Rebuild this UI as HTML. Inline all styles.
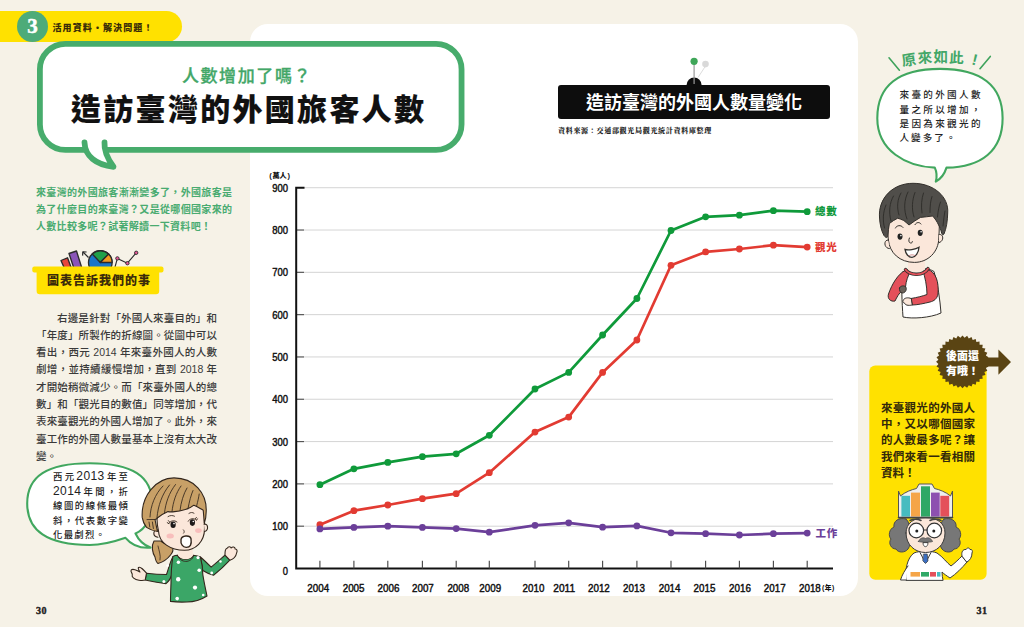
<!DOCTYPE html>
<html lang="zh-Hant">
<head>
<meta charset="utf-8">
<title>造訪臺灣的外國旅客人數</title>
<style>
html,body{margin:0;padding:0;}
body{width:1024px;height:627px;overflow:hidden;background:#f6f2e7;position:relative;
  font-family:"Liberation Sans","Noto Sans CJK TC",sans-serif;color:#222;}
.abs{position:absolute;white-space:nowrap;}
#gfx{position:absolute;left:0;top:0;width:1024px;height:627px;}
#panel{position:absolute;left:250px;top:23.5px;width:607.8px;height:572.3px;background:#fff;border-radius:18px;}
#banner{position:absolute;left:0;top:11px;width:182px;height:31px;background:#ffe100;border-radius:0 16px 16px 0;}
#num{position:absolute;left:16.8px;top:11.3px;width:31.2px;height:31.2px;border-radius:50%;background:#4dab79;color:#fff;
  font-family:"Liberation Serif",serif;font-weight:bold;font-size:21px;line-height:31.5px;text-align:center;-webkit-text-stroke:0.5px #fff;}
#bannertxt{left:52.5px;top:20.9px;font-size:9px;line-height:14px;font-weight:900;letter-spacing:1.1px;color:#3a2d08;}
#sub{left:181px;top:64px;width:132px;font-size:17px;line-height:26px;color:#43a768;letter-spacing:1.6px;text-align:center;font-weight:500;-webkit-text-stroke:0.3px #43a768;}
#title{left:71px;top:88px;font-size:30px;line-height:44px;font-weight:900;letter-spacing:2.3px;color:#111;-webkit-text-stroke:0.15px #111;}
.intro{left:36px;width:196px;font-size:10px;line-height:16px;font-weight:700;color:#49ab70;text-align:justify;text-align-last:justify;}
#lab{left:47px;top:271px;width:103px;font-size:12px;line-height:20px;font-weight:900;color:#3b2b0a;text-align:justify;text-align-last:justify;}
.bd{left:36px;width:181px;font-size:10.5px;line-height:16px;font-weight:500;color:#3a3a3a;text-align:justify;text-align-last:justify;}
.hw{font-size:9.4px;line-height:14px;font-weight:500;color:#222;text-align:justify;text-align-last:justify;}
.dg{font-size:12px;line-height:0;letter-spacing:0.4px;font-weight:400;}
.pg{font-family:"Liberation Serif",serif;font-weight:bold;font-size:10px;line-height:12px;color:#222;letter-spacing:0.5px;-webkit-text-stroke:0.4px #222;}
#ctitle{left:558px;top:85px;width:272px;height:34px;line-height:34px;background:#0d0d0d;border-radius:3px;color:#fff;
  font-size:18px;font-weight:700;text-align:center;letter-spacing:0px;padding-top:1px;box-sizing:border-box;}
#src{left:558px;top:126px;font-family:"Liberation Serif","Noto Serif CJK TC",serif;font-weight:900;font-size:7px;line-height:10px;color:#222;letter-spacing:0.7px;}
.ybox{left:881px;width:94px;font-size:11.5px;line-height:18px;font-weight:700;color:#33290a;text-align:justify;text-align-last:justify;}
.bdg{font-size:11px;line-height:14px;font-weight:900;color:#fff;}
</style>
</head>
<body>
<div id="panel"></div>
<div id="banner"></div>
<div id="num">3</div>
<div class="abs" id="bannertxt">活用資料・解決問題！</div>

<svg id="gfx" width="1024" height="627" viewBox="0 0 1024 627">
<!--CHART-->
<g id="chart" font-family="'Liberation Sans','Noto Sans CJK TC',sans-serif">
<line x1="304" y1="526.19" x2="833" y2="526.19" stroke="#cfcfcf" stroke-width="0.9"/>
<line x1="297" y1="526.19" x2="304" y2="526.19" stroke="#555" stroke-width="1.2"/>
<line x1="304" y1="483.88" x2="833" y2="483.88" stroke="#cfcfcf" stroke-width="0.9"/>
<line x1="297" y1="483.88" x2="304" y2="483.88" stroke="#555" stroke-width="1.2"/>
<line x1="304" y1="441.57" x2="833" y2="441.57" stroke="#cfcfcf" stroke-width="0.9"/>
<line x1="297" y1="441.57" x2="304" y2="441.57" stroke="#555" stroke-width="1.2"/>
<line x1="304" y1="399.26" x2="833" y2="399.26" stroke="#cfcfcf" stroke-width="0.9"/>
<line x1="297" y1="399.26" x2="304" y2="399.26" stroke="#555" stroke-width="1.2"/>
<line x1="304" y1="356.95" x2="833" y2="356.95" stroke="#cfcfcf" stroke-width="0.9"/>
<line x1="297" y1="356.95" x2="304" y2="356.95" stroke="#555" stroke-width="1.2"/>
<line x1="304" y1="314.64" x2="833" y2="314.64" stroke="#cfcfcf" stroke-width="0.9"/>
<line x1="297" y1="314.64" x2="304" y2="314.64" stroke="#555" stroke-width="1.2"/>
<line x1="304" y1="272.33" x2="833" y2="272.33" stroke="#cfcfcf" stroke-width="0.9"/>
<line x1="297" y1="272.33" x2="304" y2="272.33" stroke="#555" stroke-width="1.2"/>
<line x1="304" y1="230.02" x2="833" y2="230.02" stroke="#cfcfcf" stroke-width="0.9"/>
<line x1="297" y1="230.02" x2="304" y2="230.02" stroke="#555" stroke-width="1.2"/>
<line x1="304" y1="187.71" x2="833" y2="187.71" stroke="#cfcfcf" stroke-width="0.9"/>
<path d="M304.5,187.71 H296.2 V568.5 H833" fill="none" stroke="#111" stroke-width="2"/>
<line x1="319.9" y1="560.8" x2="319.9" y2="568.5" stroke="#4a4a4a" stroke-width="1.15"/>
<line x1="353.9" y1="560.8" x2="353.9" y2="568.5" stroke="#4a4a4a" stroke-width="1.15"/>
<line x1="387.8" y1="560.8" x2="387.8" y2="568.5" stroke="#4a4a4a" stroke-width="1.15"/>
<line x1="422.4" y1="560.8" x2="422.4" y2="568.5" stroke="#4a4a4a" stroke-width="1.15"/>
<line x1="456.2" y1="560.8" x2="456.2" y2="568.5" stroke="#4a4a4a" stroke-width="1.15"/>
<line x1="489.3" y1="560.8" x2="489.3" y2="568.5" stroke="#4a4a4a" stroke-width="1.15"/>
<line x1="535" y1="560.8" x2="535" y2="568.5" stroke="#4a4a4a" stroke-width="1.15"/>
<line x1="568.7" y1="560.8" x2="568.7" y2="568.5" stroke="#4a4a4a" stroke-width="1.15"/>
<line x1="602.6" y1="560.8" x2="602.6" y2="568.5" stroke="#4a4a4a" stroke-width="1.15"/>
<line x1="636.9" y1="560.8" x2="636.9" y2="568.5" stroke="#4a4a4a" stroke-width="1.15"/>
<line x1="671" y1="560.8" x2="671" y2="568.5" stroke="#4a4a4a" stroke-width="1.15"/>
<line x1="705.6" y1="560.8" x2="705.6" y2="568.5" stroke="#4a4a4a" stroke-width="1.15"/>
<line x1="739.4" y1="560.8" x2="739.4" y2="568.5" stroke="#4a4a4a" stroke-width="1.15"/>
<line x1="773.4" y1="560.8" x2="773.4" y2="568.5" stroke="#4a4a4a" stroke-width="1.15"/>
<line x1="807.2" y1="560.8" x2="807.2" y2="568.5" stroke="#4a4a4a" stroke-width="1.15"/>
<text x="282.8" y="574.7" font-size="11" textLength="5.2" lengthAdjust="spacingAndGlyphs" fill="#111" stroke="#111" stroke-width="0.45">0</text>
<text x="272.2" y="530.2" font-size="11" textLength="15.8" lengthAdjust="spacingAndGlyphs" fill="#111" stroke="#111" stroke-width="0.45">100</text>
<text x="272.2" y="487.9" font-size="11" textLength="15.8" lengthAdjust="spacingAndGlyphs" fill="#111" stroke="#111" stroke-width="0.45">200</text>
<text x="272.2" y="445.6" font-size="11" textLength="15.8" lengthAdjust="spacingAndGlyphs" fill="#111" stroke="#111" stroke-width="0.45">300</text>
<text x="272.2" y="403.3" font-size="11" textLength="15.8" lengthAdjust="spacingAndGlyphs" fill="#111" stroke="#111" stroke-width="0.45">400</text>
<text x="272.2" y="360.9" font-size="11" textLength="15.8" lengthAdjust="spacingAndGlyphs" fill="#111" stroke="#111" stroke-width="0.45">500</text>
<text x="272.2" y="318.6" font-size="11" textLength="15.8" lengthAdjust="spacingAndGlyphs" fill="#111" stroke="#111" stroke-width="0.45">600</text>
<text x="272.2" y="276.3" font-size="11" textLength="15.8" lengthAdjust="spacingAndGlyphs" fill="#111" stroke="#111" stroke-width="0.45">700</text>
<text x="272.2" y="234.0" font-size="11" textLength="15.8" lengthAdjust="spacingAndGlyphs" fill="#111" stroke="#111" stroke-width="0.45">800</text>
<text x="272.2" y="191.7" font-size="11" textLength="15.8" lengthAdjust="spacingAndGlyphs" fill="#111" stroke="#111" stroke-width="0.45">900</text>
<text x="307.3" y="592.3" font-size="11" textLength="21.8" lengthAdjust="spacingAndGlyphs" fill="#111" stroke="#111" stroke-width="0.45">2004</text>
<text x="342.7" y="592.3" font-size="11" textLength="21.8" lengthAdjust="spacingAndGlyphs" fill="#111" stroke="#111" stroke-width="0.45">2005</text>
<text x="377.6" y="592.3" font-size="11" textLength="21.8" lengthAdjust="spacingAndGlyphs" fill="#111" stroke="#111" stroke-width="0.45">2006</text>
<text x="412.0" y="592.3" font-size="11" textLength="21.8" lengthAdjust="spacingAndGlyphs" fill="#111" stroke="#111" stroke-width="0.45">2007</text>
<text x="447.4" y="592.3" font-size="11" textLength="21.8" lengthAdjust="spacingAndGlyphs" fill="#111" stroke="#111" stroke-width="0.45">2008</text>
<text x="479.3" y="592.3" font-size="11" textLength="21.8" lengthAdjust="spacingAndGlyphs" fill="#111" stroke="#111" stroke-width="0.45">2009</text>
<text x="522.6" y="592.3" font-size="11" textLength="21.8" lengthAdjust="spacingAndGlyphs" fill="#111" stroke="#111" stroke-width="0.45">2010</text>
<text x="553.3" y="592.3" font-size="11" textLength="21.8" lengthAdjust="spacingAndGlyphs" fill="#111" stroke="#111" stroke-width="0.45">2011</text>
<text x="588.0" y="592.3" font-size="11" textLength="21.8" lengthAdjust="spacingAndGlyphs" fill="#111" stroke="#111" stroke-width="0.45">2012</text>
<text x="623.1" y="592.3" font-size="11" textLength="21.8" lengthAdjust="spacingAndGlyphs" fill="#111" stroke="#111" stroke-width="0.45">2013</text>
<text x="658.7" y="592.3" font-size="11" textLength="21.8" lengthAdjust="spacingAndGlyphs" fill="#111" stroke="#111" stroke-width="0.45">2014</text>
<text x="693.6" y="592.3" font-size="11" textLength="21.8" lengthAdjust="spacingAndGlyphs" fill="#111" stroke="#111" stroke-width="0.45">2015</text>
<text x="729.1" y="592.3" font-size="11" textLength="21.8" lengthAdjust="spacingAndGlyphs" fill="#111" stroke="#111" stroke-width="0.45">2016</text>
<text x="763.8" y="592.3" font-size="11" textLength="21.8" lengthAdjust="spacingAndGlyphs" fill="#111" stroke="#111" stroke-width="0.45">2017</text>
<text x="799.0" y="592.3" font-size="11" textLength="21.8" lengthAdjust="spacingAndGlyphs" fill="#111" stroke="#111" stroke-width="0.45">2018</text>
<text x="269.3" y="177.8" font-size="7.2" font-weight="900" fill="#111"><tspan font-weight="700" font-size="7.6">(</tspan><tspan dx="0.6">萬人</tspan><tspan dx="0.8" font-weight="700" font-size="7.6">)</tspan></text>
<text x="822" y="590.4" font-size="6.8" font-weight="900" fill="#111"><tspan font-weight="700" font-size="7">(</tspan><tspan dx="0.4">年</tspan><tspan dx="0.5" font-weight="700" font-size="7">)</tspan></text>
<polyline points="319.9,484.7 353.9,468.8 387.8,462.4 422.4,456.7 456.2,453.8 489.3,435.3 535,389 568.7,372.4 602.6,335 636.9,298.5 671,230.5 705.6,216.8 739.4,215.2 773.4,210.7 807.2,211.7" fill="none" stroke="#0f9a3a" stroke-width="2.7" stroke-linejoin="round" stroke-linecap="round"/>
<circle cx="319.9" cy="484.7" r="3.4" fill="#0f9a3a"/>
<circle cx="353.9" cy="468.8" r="3.4" fill="#0f9a3a"/>
<circle cx="387.8" cy="462.4" r="3.4" fill="#0f9a3a"/>
<circle cx="422.4" cy="456.7" r="3.4" fill="#0f9a3a"/>
<circle cx="456.2" cy="453.8" r="3.4" fill="#0f9a3a"/>
<circle cx="489.3" cy="435.3" r="3.4" fill="#0f9a3a"/>
<circle cx="535" cy="389" r="3.4" fill="#0f9a3a"/>
<circle cx="568.7" cy="372.4" r="3.4" fill="#0f9a3a"/>
<circle cx="602.6" cy="335" r="3.4" fill="#0f9a3a"/>
<circle cx="636.9" cy="298.5" r="3.4" fill="#0f9a3a"/>
<circle cx="671" cy="230.5" r="3.4" fill="#0f9a3a"/>
<circle cx="705.6" cy="216.8" r="3.4" fill="#0f9a3a"/>
<circle cx="739.4" cy="215.2" r="3.4" fill="#0f9a3a"/>
<circle cx="773.4" cy="210.7" r="3.4" fill="#0f9a3a"/>
<circle cx="807.2" cy="211.7" r="3.4" fill="#0f9a3a"/>
<polyline points="319.9,524.7 353.9,510.7 387.8,505 422.4,498.7 456.2,493.7 489.3,472.7 535,432.1 568.7,417.1 602.6,372.4 636.9,340 671,265.3 705.6,251.9 739.4,249 773.4,245.2 807.2,247.1" fill="none" stroke="#e23b32" stroke-width="2.7" stroke-linejoin="round" stroke-linecap="round"/>
<circle cx="319.9" cy="524.7" r="3.4" fill="#e23b32"/>
<circle cx="353.9" cy="510.7" r="3.4" fill="#e23b32"/>
<circle cx="387.8" cy="505" r="3.4" fill="#e23b32"/>
<circle cx="422.4" cy="498.7" r="3.4" fill="#e23b32"/>
<circle cx="456.2" cy="493.7" r="3.4" fill="#e23b32"/>
<circle cx="489.3" cy="472.7" r="3.4" fill="#e23b32"/>
<circle cx="535" cy="432.1" r="3.4" fill="#e23b32"/>
<circle cx="568.7" cy="417.1" r="3.4" fill="#e23b32"/>
<circle cx="602.6" cy="372.4" r="3.4" fill="#e23b32"/>
<circle cx="636.9" cy="340" r="3.4" fill="#e23b32"/>
<circle cx="671" cy="265.3" r="3.4" fill="#e23b32"/>
<circle cx="705.6" cy="251.9" r="3.4" fill="#e23b32"/>
<circle cx="739.4" cy="249" r="3.4" fill="#e23b32"/>
<circle cx="773.4" cy="245.2" r="3.4" fill="#e23b32"/>
<circle cx="807.2" cy="247.1" r="3.4" fill="#e23b32"/>
<polyline points="319.9,528.9 353.9,527.4 387.8,526.2 422.4,527.4 456.2,528.6 489.3,532.2 535,525.3 568.7,522.8 602.6,527.2 636.9,525.9 671,532.8 705.6,533.7 739.4,535 773.4,533.7 807.2,533.1" fill="none" stroke="#6b3f99" stroke-width="2.7" stroke-linejoin="round" stroke-linecap="round"/>
<circle cx="319.9" cy="528.9" r="3.4" fill="#6b3f99"/>
<circle cx="353.9" cy="527.4" r="3.4" fill="#6b3f99"/>
<circle cx="387.8" cy="526.2" r="3.4" fill="#6b3f99"/>
<circle cx="422.4" cy="527.4" r="3.4" fill="#6b3f99"/>
<circle cx="456.2" cy="528.6" r="3.4" fill="#6b3f99"/>
<circle cx="489.3" cy="532.2" r="3.4" fill="#6b3f99"/>
<circle cx="535" cy="525.3" r="3.4" fill="#6b3f99"/>
<circle cx="568.7" cy="522.8" r="3.4" fill="#6b3f99"/>
<circle cx="602.6" cy="527.2" r="3.4" fill="#6b3f99"/>
<circle cx="636.9" cy="525.9" r="3.4" fill="#6b3f99"/>
<circle cx="671" cy="532.8" r="3.4" fill="#6b3f99"/>
<circle cx="705.6" cy="533.7" r="3.4" fill="#6b3f99"/>
<circle cx="739.4" cy="535" r="3.4" fill="#6b3f99"/>
<circle cx="773.4" cy="533.7" r="3.4" fill="#6b3f99"/>
<circle cx="807.2" cy="533.1" r="3.4" fill="#6b3f99"/>
<text x="815" y="215" font-size="10.5" font-weight="900" fill="#11993d" letter-spacing="0.8">總數</text>
<text x="815" y="251" font-size="10.5" font-weight="900" fill="#e23b32" letter-spacing="0.8">觀光</text>
<text x="815.5" y="537" font-size="10.5" font-weight="900" fill="#6b3f99" letter-spacing="0.8">工作</text>
<line x1="705.5" y1="66" x2="698" y2="77.5" stroke="#dcdcdc" stroke-width="1"/><circle cx="705.5" cy="64.1" r="3.3" fill="#d9d9d9"/>
<path d="M686.6,85 A7.5,7.5 0 0 1 701.6,85 Z" fill="#0d0d0d"/>
<line x1="694.1" y1="62" x2="694.1" y2="84" stroke="#9a9a9a" stroke-width="1.2"/><circle cx="694.1" cy="61.3" r="3.6" fill="#3fa659"/>
</g>
<!--/CHART-->
<g id="bubble">
<rect x="39.9" y="43.85" width="421.65" height="106.05" rx="25.5" ry="25.5" fill="#fff" stroke="#47ac6c" stroke-width="5.8"/>
<path d="M84.5,142.5 C85,156 96,165 113.5,166.8 C107,158 104,150 104.5,142.5 Z" fill="#fff" stroke="none"/>
<rect x="87" y="140" width="16" height="13" fill="#fff"/>
<path d="M84.5,142.5 C85,156 96,165 113.5,166.8 C107,158 104,150 104.5,142.5" fill="none" stroke="#47ac6c" stroke-width="5.8" stroke-linecap="round" stroke-linejoin="round"/>
</g>
<g id="label">
<g stroke="#2b2b2b" stroke-width="1.35" stroke-linejoin="round">
<path d="M61,260.5 L67.5,257.8 L71.5,268.5 L64.5,268.5 Z" fill="#e8453c"/>
<path d="M69,253.5 L76.5,251 L82,268.5 L74,268.5 Z" fill="#8a55b8"/>
<path d="M88.5,257.5 L83,252" fill="none" stroke-width="1.2"/>
<path d="M82.6,255.6 L82.8,251.8 L86.6,252" fill="none" stroke-width="1.2"/>
<circle cx="100.3" cy="262.5" r="11.8" fill="#1a76c8"/>
<path d="M100.3,262.5 L92.3,254 A11.8,11.8 0 0 1 108.6,254.1 Z" fill="#1fa04a"/>
<path d="M100.3,262.5 L108.6,254.1 A11.8,11.8 0 0 1 112.1,262.5 Z" fill="#f39a1e"/>
<polyline points="115,267 117.4,258.4 127.4,263.2 136.2,252.8" fill="none" stroke-width="1.1"/>
<circle cx="117.4" cy="258.4" r="1.7" fill="#e85a9a" stroke-width="0.9"/>
<circle cx="127.4" cy="263.2" r="1.7" fill="#e85a9a" stroke-width="0.9"/>
<circle cx="136.2" cy="252.8" r="1.7" fill="#e85a9a" stroke-width="0.9"/>
</g>
<rect x="32.3" y="266.4" width="131.2" height="6" rx="2" fill="#ffe100"/>
<path d="M36.6,270 H159.2 V291 Q159.2,294.2 156,294.2 H39.8 Q36.6,294.2 36.6,291 Z" fill="#ffe100"/>
</g>
<g id="girlbubble">
<path d="M27.2,503.4 C27.2,476.1 47.2,463.2 89.7,463.2 C132.2,463.2 152.2,476.1 152.2,503.4 C152.2,517.4 146,529 135.5,533.5 C138.5,540 143.5,545 150.5,547.6 C140,548.4 131,544.5 125.5,537.8 C115,541.5 102,545 89.7,545 C47.2,545 27.2,530.7 27.2,503.4 Z" fill="#fff" stroke="#41a75f" stroke-width="2.1" stroke-linejoin="round"/>
</g>
<g id="girl" stroke="#33261c" stroke-width="1.1" stroke-linejoin="round" stroke-linecap="round">
<!-- ponytail -->
<path d="M154,541 C151,546 152.5,553 155,557 C155.5,560 156.5,562.5 158,563.5 C163,562 167.5,559 170.5,555 C173,552 173.5,549 172,547 C168,545 163,543 161,541 Z" fill="#c8a067"/>
<path d="M158,546 C159,551 161,555 160,560" fill="none" stroke-width="0.8"/>
<!-- left arm -->
<path d="M173,556.5 C170,562 168.5,569 166.5,574.5 C160,574.5 153,574 146.5,573.2 L145.2,580 C152,581.5 160,583 166,583.6 C169,581 171,578 172,574 Z" fill="#3ba667"/>
<!-- right arm -->
<path d="M200.4,557 C204,560 208,564 211.2,567.2 C216,563 221,559 225,555.2 L229.8,560.2 C225,565.5 219,571 213.5,575.2 C210,574.5 206,572.5 202.8,570.5 Z" fill="#3ba667"/>
<!-- hands -->
<path d="M146.5,573.2 C144,570 140,566.5 138.5,567.5 C137.5,568.5 139.5,571 140,572 C137,570 132.5,568.5 131.2,570 C130,572 133,573.5 132.2,575 C131.5,577 134.5,579.5 139,580.2 C141.5,580.6 144,580.4 145.2,580 Z" fill="#fbe7da"/>
<path d="M225,555.2 C224.8,551.5 225.5,548 227.5,548 C228,546.5 230.5,546 231.2,548 C232.5,546.3 235,546.8 235.2,549 C237,548.8 237.6,551 236.6,553 C236,556.5 233,559.2 229.8,560.2 Z" fill="#fbe7da"/>
<!-- body -->
<path d="M172.9,556.5 C174.5,555.5 176,555.2 177.6,555.2 C180,560.5 191,560.5 193.2,555.2 C196,555.5 198.5,556 200.4,557 C202,563 202.8,568 202.8,574.5 C204,582 205.5,589 207,596 C200,600.5 193,602 187,602 C181,602.3 175,602 170.5,601.4 C170.5,595 170.8,589 171,583 C171,574 171.5,565 172.9,556.5 Z" fill="#3ba667"/>
<path d="M177.6,555.2 C180,563.5 191.5,563.5 193.8,555.6" fill="none" stroke-width="0.9"/>
<!-- neck -->
<path d="M178.5,549 L178,555.4 C181,560.3 190.5,560.3 193,555.4 L192.5,548 Z" fill="#fbe7da" stroke="none"/>
<!-- face -->
<path d="M158.5,531 C156,520 156,508 165,502 C175,498 195,498 203,504 C205,510 204.5,518 204.5,529 C204.5,541.5 195.5,550.2 184.5,550.2 C170.5,550.2 159,543 158.5,531 Z" fill="#fbe7da"/>
<path d="M204,524.2 C208,523.2 209.2,529.8 204.6,531.6" fill="#fbe7da"/>
<path d="M157.8,530 C153,529 152,536.5 158,537.2" fill="#fbe7da"/>
<!-- hair -->
<path d="M142.2,517.4 C141,496 156,478 174,477.9 C194,478 207,493 206.2,511.6 C206.2,516 205.6,520 204.2,523.2 C204,519 203.6,514 203.2,510.2 C200,508.4 197,506.4 193.9,505.2 C191.5,507.2 188.5,508.8 185.3,509.5 C181.7,510.6 178,511.4 174.5,511.6 C172.2,511.9 170,511.9 168,511.6 C164,513.4 160,515.8 157.3,518 C157,518.6 156.2,519.4 155,519.5 C155.8,523.5 156.6,527.5 157.5,531.5 C153,530.8 149.5,529.4 146.5,527.4 C144.2,524.4 142.7,521 142.2,517.4 Z" fill="#c8a067"/>
<g fill="none" stroke-width="0.85">
<path d="M147,519.6 L155,519.5"/>
<path d="M150,517 C150.5,506 155,494 163,486"/>
<path d="M157,517.5 C158,506 162,494 169.5,485"/>
<path d="M164.5,513.2 C165.5,503 169,493 175.5,484.5"/>
<path d="M172,511.6 C173,502 176,493 181,486"/>
<path d="M180,510.6 C181,502 183.5,494 187,488"/>
<path d="M188,508.4 C189.5,501 191,495 193,490.5"/>
<path d="M196.5,506.5 C198,500.5 198.8,497 199.2,494"/>
<path d="M149,522 L149.8,527 M152.4,522 L153.4,528.5"/>
</g>
</g>
<g id="girlface">
<ellipse cx="173.1" cy="524.7" rx="2.6" ry="3.3" fill="#1d1a1a"/>
<ellipse cx="192.4" cy="522.6" rx="2.6" ry="3.3" fill="#1d1a1a"/>
<circle cx="174" cy="523.6" r="0.8" fill="#fff"/><circle cx="193.3" cy="521.5" r="0.8" fill="#fff"/>
<path d="M168.8,523.6 C170,520.6 174.5,519.8 177,522 M168.8,523.6 L167.2,522.6 M169.6,522 L168.4,520.6 M188.2,521.2 C189.5,518.4 194,517.8 196.4,520 M196.4,520 L197.8,518.8 M195.4,518.8 L196.4,517.4" fill="none" stroke="#33261c" stroke-width="0.9" stroke-linecap="round"/>
<path d="M168,516.6 C170,515.2 172.6,515.2 174.5,516.2 M188.9,513.4 C190.6,512.2 192.6,512.2 194,513.2" fill="none" stroke="#33261c" stroke-width="0.85" stroke-linecap="round"/>
<ellipse cx="170.2" cy="536" rx="3.7" ry="2.5" fill="#f7b4b4" opacity="0.8"/>
<ellipse cx="198.4" cy="530.6" rx="3.3" ry="2.4" fill="#f7b4b4" opacity="0.8"/>
<path d="M183.4,529.8 C184.4,530.8 184.6,532.2 183.6,533.2" fill="none" stroke="#33261c" stroke-width="0.85" stroke-linecap="round"/>
<path d="M181,539.6 C181.6,535.4 189.8,534.6 191,538.6 C192,545 190,547.2 186.4,547.4 C182.8,547.6 180.4,544 181,539.6 Z" fill="#fff" stroke="#33261c" stroke-width="1.4"/>
<g fill="#fff">
<circle cx="198" cy="557.6" r="1.6"/><circle cx="178.4" cy="562.3" r="1.7"/><circle cx="167.6" cy="565.6" r="1.4"/><circle cx="199.2" cy="570.3" r="1.8"/><circle cx="178.2" cy="579.3" r="2.2"/><circle cx="195" cy="587.6" r="2.1"/><circle cx="177.2" cy="598.6" r="1.8"/><circle cx="211.7" cy="573" r="1.4"/><circle cx="163.9" cy="581.4" r="1.5"/><circle cx="203.2" cy="595" r="1.3"/><circle cx="220.5" cy="561.5" r="1.2"/>
</g>
</g>
<g id="rbubble">
<path d="M877.3,118.2 C877.3,85.7 898.6,68.9 940.0,68.9 C981.3,68.9 1002.6,85.7 1002.6,118.2 C1002.6,150.8 981.3,167.1 946.5,167.6 C944.5,174 940.5,179 935.8,181.6 C937.2,176.5 936.6,171.5 934.8,167.6 C906.6,166.6 877.3,150.8 877.3,118.2 Z" fill="#fff" stroke="#41a75f" stroke-width="2.1" stroke-linejoin="round"/>
<path d="M889,57.8 L899.4,70.2 M990.3,56.4 L980,68.7" stroke="#3fa35c" stroke-width="1.6" stroke-linecap="round"/>
<g font-family="'Liberation Sans','Noto Sans CJK TC',sans-serif" font-size="14.5" font-weight="700" fill="#43a768">
<text transform="translate(902.5,66.2) rotate(-9)">原</text>
<text transform="translate(918,63.3) rotate(-4)">來</text>
<text transform="translate(933.5,62.3) rotate(0)">如</text>
<text transform="translate(949,62.6) rotate(3)">此</text>
<text transform="translate(971,64.2) rotate(14)" font-size="15.5">!</text>
</g>
</g>
<g id="ybox">
<rect x="869.3" y="365.5" width="117.3" height="214.3" rx="6" fill="#ffe100"/>
<polygon points="988.9,361.8 986.6,363.9 988.5,366.4 985.9,368.1 987.3,370.8 984.4,372.0 985.4,375.0 982.3,375.7 982.7,378.8 979.6,378.9 979.5,382.0 976.4,381.6 975.7,384.7 972.7,383.7 971.5,386.6 968.8,385.2 967.1,387.8 964.6,385.9 962.5,388.2 960.4,385.9 957.9,387.8 956.2,385.2 953.5,386.6 952.3,383.7 949.3,384.7 948.6,381.6 945.5,382.0 945.4,378.9 942.3,378.8 942.7,375.7 939.6,375.0 940.6,372.0 937.7,370.8 939.1,368.1 936.5,366.4 938.4,363.9 936.1,361.8 938.4,359.7 936.5,357.2 939.1,355.5 937.7,352.8 940.6,351.6 939.6,348.6 942.7,347.9 942.3,344.8 945.4,344.7 945.5,341.6 948.6,342.0 949.3,338.9 952.3,339.9 953.5,337.0 956.2,338.4 957.9,335.8 960.4,337.7 962.5,335.4 964.6,337.7 967.1,335.8 968.8,338.4 971.5,337.0 972.7,339.9 975.7,338.9 976.4,342.0 979.5,341.6 979.6,344.7 982.7,344.8 982.3,347.9 985.4,348.6 984.4,351.6 987.3,352.8 985.9,355.5 988.5,357.2 986.6,359.7" fill="#5a4413"/>
<path d="M985,357.4 H998.4 V349.4 L1011,362 L998.4,374.7 V366.6 H985 Z" fill="#5a4413"/>
</g>
<g id="boy" stroke="#33302c" stroke-width="1" stroke-linejoin="round" stroke-linecap="round">
<!-- torso -->
<path d="M903,272 C908,267.5 928,267 934,271.5 C938,285 940,300 941,313 C930,318 912,319 903,317 C902,302 901,286 903,272 Z" fill="#fff"/>
<!-- left sleeve (viewer left) -->
<path d="M905,270.5 C898,274 892,284 888.5,294 C887,299 891,302 895,301 C897,297 899,293 902,291 L905.5,287 C906,281 908,276 910,272 Z" fill="#e4505a"/>
<!-- right sleeve -->
<path d="M928,269.5 C936,272 939,282 938,294 C937,299 934,301 930,302 C924,303.5 917,305 912,305 L911,298.5 C917,297.5 923,296 927,294.5 C927,286 925,277 923,271 Z" fill="#e4505a"/>
<!-- hands -->
<path d="M899.5,288 C900,285.5 905,285 906,287.5 C907,290 905,293 902.5,293 C900.5,293 899,290.5 899.5,288 Z" fill="#6b625a"/>
<path d="M911,298.5 C908,297 904,298 903.5,300 C902,301 903,303 904.5,303 C905,305 908,306 912,305 Z" fill="#fbe7da"/>
<!-- neck -->
<path d="M908,262 L908,270 C912,273.5 921,273.5 925,269.5 L925,260 Z" fill="#fbe7da" stroke="none"/>
<path d="M905.5,269.6 C910,276 923.5,276 928,268.6" fill="none" stroke="#33302c" stroke-width="3.4"/><path d="M905.5,269.6 C910,276 923.5,276 928,268.6" fill="none" stroke="#e4505a" stroke-width="1.8"/>
<!-- face -->
<path d="M888.4,240 C886,226 890,212 900,208 C912,204 932,206 938,214 C940,222 939.2,230 938.8,238 C938.6,252 928,262.4 914.4,262.4 C900,262.4 889.4,253 888.4,240 Z" fill="#fbe7da"/>
<!-- hair -->
<path d="M879.5,217.4 C878,198 893,183.3 913,183.3 C934,183.3 949,197 947.7,213 C947.5,221 946.5,228 944,234 C943,235.4 942.2,234.8 941.7,233.3 C941,230 940,227.5 938.6,225 C937,221.5 935,218.5 932.6,216 C928.5,216.6 924.5,217 920.5,217.4 C916.5,219.6 912.5,222.4 909,225 C907.2,223.4 905.4,221.8 903.8,220.5 C901.8,219.6 899.8,218.8 897.7,218.2 C894.8,219.6 892,221.4 889.4,223.5 C888.6,227.5 888.2,231.5 887.9,235.6 C887.5,238.2 886,238.2 884,235.6 C881.2,230.5 879.8,224 879.5,217.4 Z" fill="#504e4a"/>
<g fill="none" stroke="#2b2926" stroke-width="0.85">
<path d="M884.5,228 C882.5,220 883,212 886,205"/>
<path d="M891,221 C888.5,212 889.5,203 893.5,196"/>
<path d="M899,215 C896.5,207 897.5,199 901,193"/>
<path d="M907,219 C903.5,210 904,200 908,192"/>
<path d="M914,217 C911.5,209 912,200 915,192.5"/>
<path d="M922,213 C921,206 921.5,199 923.5,193"/>
<path d="M930,212.5 C930,206 930.5,201 932,196.5"/>
<path d="M937.5,217 C938,211 939,206 940.5,202"/>
<path d="M943,226 C943.6,220 944.2,215 945,211"/>
</g>
<!-- ears -->
<path d="M888.2,240.2 C883.6,239 883.4,248.4 889.4,248.6" fill="#fbe7da"/>
<path d="M939,234.6 C943.6,233 944.6,241.4 939,242.6" fill="#fbe7da"/>
</g>
<g id="boyface" fill="none" stroke="#33302c" stroke-linecap="round">
<ellipse cx="900" cy="236.6" rx="2.5" ry="3.1" fill="#222" stroke="none"/>
<ellipse cx="920.2" cy="232.8" rx="2.5" ry="3.1" fill="#222" stroke="none"/>
<circle cx="900.9" cy="235.6" r="0.8" fill="#fff" stroke="none"/>
<circle cx="921.1" cy="231.8" r="0.8" fill="#fff" stroke="none"/>
<path d="M895.4,228 C896.6,225.2 901,224.6 903,227.4" stroke-width="1"/>
<path d="M915,224.6 C916.4,222 919.6,221.8 921,224" stroke-width="1"/>
<path d="M909.4,238 C908.4,240.4 908.6,242.6 910.6,243 C911.8,243.2 912.4,242.4 912.4,241.6" stroke-width="1"/>
<path d="M905,249.4 C908,250.6 915.6,249.4 919,247.2 C918.6,253 915.4,257.4 912,257.4 C908.4,257.4 905.6,253.6 905,249.4 Z" fill="#fff" stroke-width="1.3"/>
<path d="M909,255.6 C910.4,254.6 913.6,254.4 915,255.6" stroke-width="0.8" stroke="#c77"/>
</g>
<g id="prof" stroke="#3a3a3a" stroke-width="1" stroke-linejoin="round" stroke-linecap="round">
<!-- coat -->
<path d="M906,580 C905,570 907,558 914,553 C920,550.5 931,550.5 937,553 C943,557 947,563 951,566 C955,563 959,559 962,556 L967,562 C962,568 956,574 950,578 C947,576 944,574 942,572 C942,575 942.5,578 943,580 Z" fill="#fff"/>
<path d="M908,566 C905,570 902,575 900.5,580 L906,580" fill="#fff"/>
<!-- hand -->
<path d="M962,556 C961,552 963,549 966,549.5 C967,547.5 969.5,547.5 970,549.5 C972,549 973,551 972,553 C972,557 970,560.5 967,562 Z" fill="#fff"/>
<!-- collar and tie -->
<path d="M920,552.5 L925.5,563 L931,552.5" fill="#fff"/>
<path d="M923.8,554 L927.2,554 L928,561 L925.5,563.5 L923,561 Z" fill="#3b6fc2" stroke-width="0.7"/>
<!-- belt -->
<g stroke="none">
<rect x="910.5" y="572" width="9.5" height="4.6" fill="#f5a548"/>
<rect x="921" y="572" width="8" height="4.6" fill="#2fa866"/>
<rect x="930" y="572" width="6" height="4.6" fill="#e4505a"/>
<rect x="937" y="572" width="3.5" height="4.6" fill="#47bcc0"/>
</g>
<!-- hair blobs -->
<path d="M906,519 C899,517 893,521 894,527 C889,529 888,536 891,539 C888,543 891,549 896,549 C898,553 905,553 908,549 C912,545 912,523 906,519 Z" fill="#777" stroke="#4a4a4a"/>
<path d="M944,519 C951,517 957,521 956,527 C961,529 962,536 959,539 C962,543 959,549 954,549 C952,553 945,553 942,549 C938,545 938,523 944,519 Z" fill="#777" stroke="#4a4a4a"/>
<!-- face -->
<path d="M906,533 C906,523 914,517.5 925.5,517.5 C937,517.5 945,523 945,533 C945,545 936,552.5 925.5,552.5 C915,552.5 906,545 906,533 Z" fill="#fbe7da"/>
<!-- crown base -->
<path d="M898.5,517.5 L898.5,491 L900.5,496 C905,492 912,489.5 916.5,488.5 L919,484 L932,484 L934.5,488.5 C939,489.5 946,492 950.5,496 L952.5,491 L952.5,517.5 Z" fill="#eeeeee" stroke="#555"/>
<g stroke="none">
<rect x="901.4" y="495.8" width="8.6" height="20.8" fill="#47bcc0"/>
<rect x="911" y="492.6" width="9" height="24" fill="#f5a548"/>
<rect x="921" y="486.3" width="9" height="30.3" fill="#2fa866"/>
<rect x="931" y="492.6" width="8.7" height="24" fill="#8d4fb0"/>
<rect x="940.3" y="495.8" width="8.9" height="20.8" fill="#e4505a"/>
</g>
<path d="M898.5,517.5 H952.5" stroke="#444" stroke-width="1.6"/>
<!-- glasses -->
<circle cx="916.3" cy="530.5" r="7.3" fill="#fff" stroke="#333" stroke-width="1.2"/>
<circle cx="934.3" cy="530.5" r="7.3" fill="#fff" stroke="#333" stroke-width="1.2"/>
<path d="M923.6,530 H927" stroke="#333" stroke-width="1.1"/>
<circle cx="916.8" cy="531" r="1.5" fill="#222" stroke="none"/>
<circle cx="933.8" cy="531" r="1.5" fill="#222" stroke="none"/>
<path d="M910,520.5 C913,519 918,519 921,520.5 M930,520.5 C933,519 938,519 941,520.5" fill="none" stroke="#444" stroke-width="1.6"/>
<!-- moustache + mouth -->
<path d="M918.5,541.5 C920,538 923,537 925.5,538.5 C928,537 931,538 932.5,541.5 C930,542.5 921,542.5 918.5,541.5 Z" fill="#777" stroke="#4a4a4a" stroke-width="0.8"/>
<path d="M923,543 C923,548 928,548 928,543 Z" fill="#fff" stroke-width="0.9"/>
</g>
</svg>

<div class="abs" id="sub">人數增加了嗎？</div>
<div class="abs" id="title">造訪臺灣的外國旅客人數</div>

<div class="abs intro" style="top:185px">來臺灣的外國旅客漸漸變多了，外國旅客是</div>
<div class="abs intro" style="top:202px">為了什麼目的來臺灣？又是從哪個國家來的</div>
<div class="abs intro" style="top:219px;width:175px">人數比較多呢？試著解讀一下資料吧！</div>

<div class="abs" id="lab">圖表告訴我們的事</div>

<div class="abs bd" style="top:309.5px;left:57px;width:160px">右邊是針對「外國人來臺目的」和</div>
<div class="abs bd" style="top:326.8px">「年度」所製作的折線圖。從圖中可以</div>
<div class="abs bd" style="top:344.1px">看出，西元 2014 年來臺外國人的人數</div>
<div class="abs bd" style="top:361.4px">劇增，並持續緩慢增加，直到 2018 年</div>
<div class="abs bd" style="top:378.7px">才開始稍微減少。而「來臺外國人的總</div>
<div class="abs bd" style="top:396.0px">數」和「觀光目的數值」同等增加，代</div>
<div class="abs bd" style="top:413.3px">表來臺觀光的外國人增加了。此外，來</div>
<div class="abs bd" style="top:430.6px">臺工作的外國人數量基本上沒有太大改</div>
<div class="abs bd" style="top:447.9px;width:21px">變。</div>

<div class="abs hw" style="left:53px;top:470px;width:75px">西元<span class="dg">2013</span>年至</div>
<div class="abs hw" style="left:53px;top:485px;width:75px"><span class="dg">2014</span>年間，折</div>
<div class="abs hw" style="left:53px;top:499px;width:75px">線圖的線條最傾</div>
<div class="abs hw" style="left:53px;top:514px;width:75px">斜，代表數字變</div>
<div class="abs hw" style="left:53px;top:528px;width:52px">化最劇烈。</div>

<div class="abs pg" style="left:36px;top:604.6px">30</div>
<div class="abs pg" style="left:976.6px;top:604.6px">31</div>

<div class="abs" id="ctitle">造訪臺灣的外國人數量變化</div>
<div class="abs" id="src">資料來源：交通部觀光局觀光統計資料庫整理</div>

<div class="abs hw" style="left:899.5px;top:88.0px;width:81px;font-size:9.6px">來臺的外國人數</div>
<div class="abs hw" style="left:899.5px;top:102.5px;width:81px;font-size:9.6px">量之所以增加，</div>
<div class="abs hw" style="left:899.5px;top:117.0px;width:81px;font-size:9.6px">是因為來觀光的</div>
<div class="abs hw" style="left:899.5px;top:131.2px;width:56px;font-size:9.6px">人變多了。</div>

<div class="abs bdg" style="left:946px;top:349px">後面還</div>
<div class="abs bdg" style="left:946px;top:364px">有哦！</div>

<div class="abs ybox" style="top:398.6px">來臺觀光的外國人</div>
<div class="abs ybox" style="top:415px">中，又以哪個國家</div>
<div class="abs ybox" style="top:431.4px">的人數最多呢？讓</div>
<div class="abs ybox" style="top:447.8px">我們來看一看相關</div>
<div class="abs ybox" style="top:464.2px;width:34px">資料！</div>
</body>
</html>
